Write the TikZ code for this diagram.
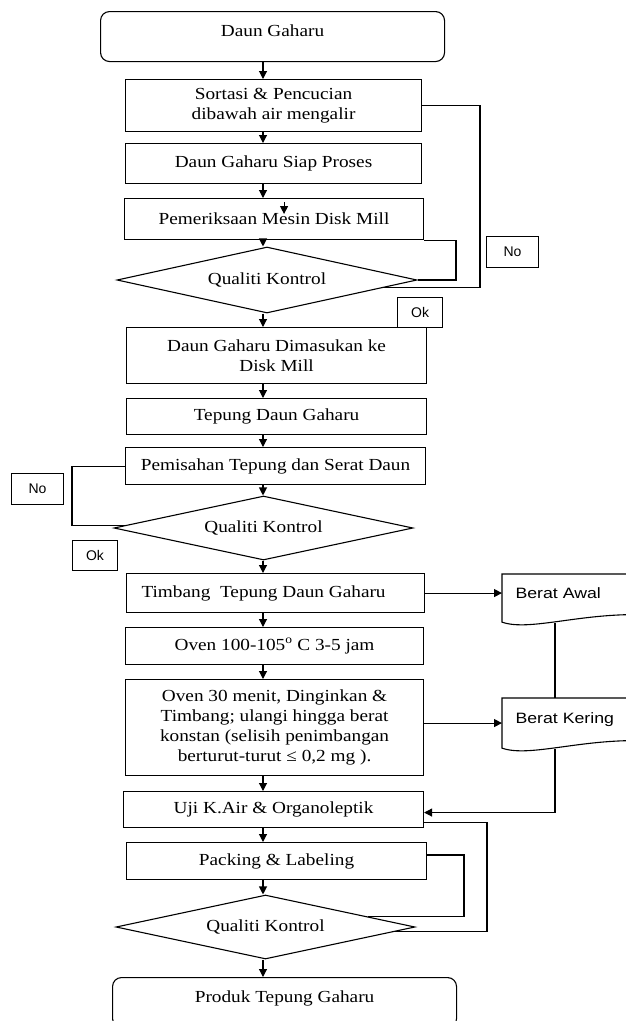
\documentclass[tikz,border=0pt]{standalone}
\usepackage{fontspec}
\setmainfont{Liberation Serif}[FakeStretch=1.14]
\newfontfamily\lsans{Liberation Sans}
\newfontfamily\lsansw{Liberation Sans}[FakeStretch=1.18]
\usetikzlibrary{shapes.geometric,arrows.meta,calc}
\begin{document}
\begin{tikzpicture}[x=1pt,y=-1pt,line width=1.1pt,
  font=\fontsize{16.9}{20}\selectfont,
  box/.style={draw,rectangle,inner sep=2pt,align=center,anchor=north west},
  term/.style={box,rounded corners=9pt,text height=12pt,text depth=12pt},
  dia/.style={draw,diamond,aspect=4.5,inner sep=0pt},
  lab/.style={draw,inner sep=0pt,anchor=north west,font=\lsans\fontsize{14}{16}\selectfont},
  doct/.style={anchor=north west,inner ysep=0pt,inner xsep=13pt,text width=120pt,align=left,
    text height=10pt,text depth=10pt,font=\lsansw\fontsize{15}{17}\selectfont},
  arr/.style={-{Triangle[length=8pt,width=8pt]}}]
\useasboundingbox (0,0) rectangle (626,1021);
\clip (0,0) rectangle (626,1021);
\fill[white] (0,0) rectangle (626,1021);
% spine
\coordinate (sp) at (263,0);
% nodes
\node[term,minimum width=344,minimum height=50] (t1) at (100,11) {Daun Gaharu};
\node[box,minimum width=296,minimum height=52] (b1) at (125,79) {Sortasi \& Pencucian\\dibawah air mengalir};
\node[box,minimum width=296,minimum height=40] (b2) at (125,143) {Daun Gaharu Siap Proses};
\node[box,minimum width=299,minimum height=41] (b3) at (124,198) {Pemeriksaan Mesin Disk Mill};
\node[dia,minimum width=300,minimum height=66] (d1) at (267,280) {Qualiti Kontrol};
\node[box,minimum width=300,minimum height=56] (b4) at (126,327) {Daun Gaharu Dimasukan ke\\Disk Mill};
\node[box,minimum width=300,minimum height=36] (b5) at (126,398) {Tepung Daun Gaharu};
\node[box,minimum width=300,minimum height=37] (b6) at (125,447) {Pemisahan Tepung dan Serat Daun};
\node[dia,minimum width=299,minimum height=64] (d2) at (263.5,528) {Qualiti Kontrol};
\node[box,minimum width=298,minimum height=39] (b7) at (126,573) {Timbang\ \ Tepung Daun Gaharu\hspace*{24pt}};
\node[box,minimum width=298,minimum height=37] (b8) at (125,627) {Oven 100-105\textsuperscript{o} C 3-5 jam};
\node[box,minimum width=298,minimum height=96] (b9) at (125,679) {Oven 30 menit, Dinginkan \&\\Timbang; ulangi hingga berat\\konstan (selisih penimbangan\\berturut-turut ≤ 0,2 mg ).};
\node[box,minimum width=300,minimum height=36] (b10) at (123,791) {Uji K.Air \& Organoleptik};
\node[box,minimum width=300,minimum height=37] (b11) at (126,842) {Packing \& Labeling};
\node[dia,minimum width=299,minimum height=64] (d3) at (265.5,927) {Qualiti Kontrol};
\node[term,minimum width=344,minimum height=50] (t2) at (112,977) {Produk Tepung Gaharu};
% labels
\node[lab,minimum width=52,minimum height=31] (no1) at (486,236) {No};
\node[lab,minimum width=45,minimum height=30] (ok1) at (397,297) {Ok};
\node[lab,minimum width=52,minimum height=31] (no2) at (11,473) {No};
\node[lab,minimum width=45,minimum height=30] (ok2) at (72,540) {Ok};
% documents
\node[doct,minimum height=47] (ba) at (502,574) {Berat Awal};
\node[doct,minimum height=49] (bk) at (502,698) {Berat Kering};
\draw ($(ba.north west)+(160,0)$) -- (ba.north west) -- (ba.south west)
  .. controls +(28,10) and +(-67,-4) .. ++(150,-7);
\draw ($(bk.north west)+(160,0)$) -- (bk.north west) -- (bk.south west)
  .. controls +(28,10) and +(-67,-4) .. ++(150,-7);
\coordinate (wa) at ($(ba.south west)+(53,1)$);
\coordinate (wk) at ($(bk.south west)+(53,1)$);
% main flow
\draw[arr] (t1.south -| sp) -- (b1.north -| sp);
\draw[arr] (b1.south -| sp) -- (b2.north -| sp);
\draw[arr] (b2.south -| sp) -- (b3.north -| sp);
\draw[arr] (b3.south -| sp) -- (d1.north -| sp);
\draw[arr] (d1.south -| sp) -- (b4.north -| sp);
\draw[arr] (b4.south -| sp) -- (b5.north -| sp);
\draw[arr] (b5.south -| sp) -- (b6.north -| sp);
\draw[arr] (b6.south -| sp) -- (d2.north -| sp);
\draw[arr] (d2.south -| sp) -- (b7.north -| sp);
\draw[arr] (b7.south -| sp) -- (b8.north -| sp);
\draw[arr] (b8.south -| sp) -- (b9.north -| sp);
\draw[arr] (b9.south -| sp) -- (b10.north -| sp);
\draw[arr] (b10.south -| sp) -- (b11.north -| sp);
\draw[arr] (b11.south -| sp) -- (d3.north -| sp);
\draw[arr] (d3.south -| sp) -- (t2.north -| sp);
% stray mark
\draw[arr] ($(b3.north)+(10,4)$) -- ($(b3.north)+(10,16)$);
% loops
\coordinate (r1) at (480,0);
\coordinate (r2) at (456,0);
\coordinate (l3) at (72,0);
\coordinate (r5) at (487,0);
\coordinate (r6) at (464,0);
\coordinate (p1) at ($(d1.east)!0.23!(d1.south)$);
\coordinate (p2) at ($(d2.west)!0.08!(d2.north)$);
\coordinate (p5) at ($(d3.east)!0.14!(d3.south)$);
\coordinate (p6) at ($(d3.east)!0.32!(d3.north)$);
\coordinate (q5) at ($(b10.south east)+(0,-6)$);
\coordinate (q6) at ($(b11.north east)+(0,13)$);
\draw (b1.east) -- (b1.east -| r1) |- (p1);
\draw (b3.south east) -- (b3.south east -| r2) |- (d1.east);
\draw (b6.west) -- (b6.west -| l3) |- (p2);
\draw (q5) -- (q5 -| r5) |- (p5);
\draw (q6) -- (q6 -| r6) |- (p6);
% weighing
\draw[arr] (b7.east) -- (b7.east -| ba.west);
\draw[arr] (bk.west -| b9.east) -- (bk.west);
\draw (wa) -- (wa |- bk.north);
\draw[arr] (wk) |- ($(b10.east)+(0,3)$);
\end{tikzpicture}
\end{document}
